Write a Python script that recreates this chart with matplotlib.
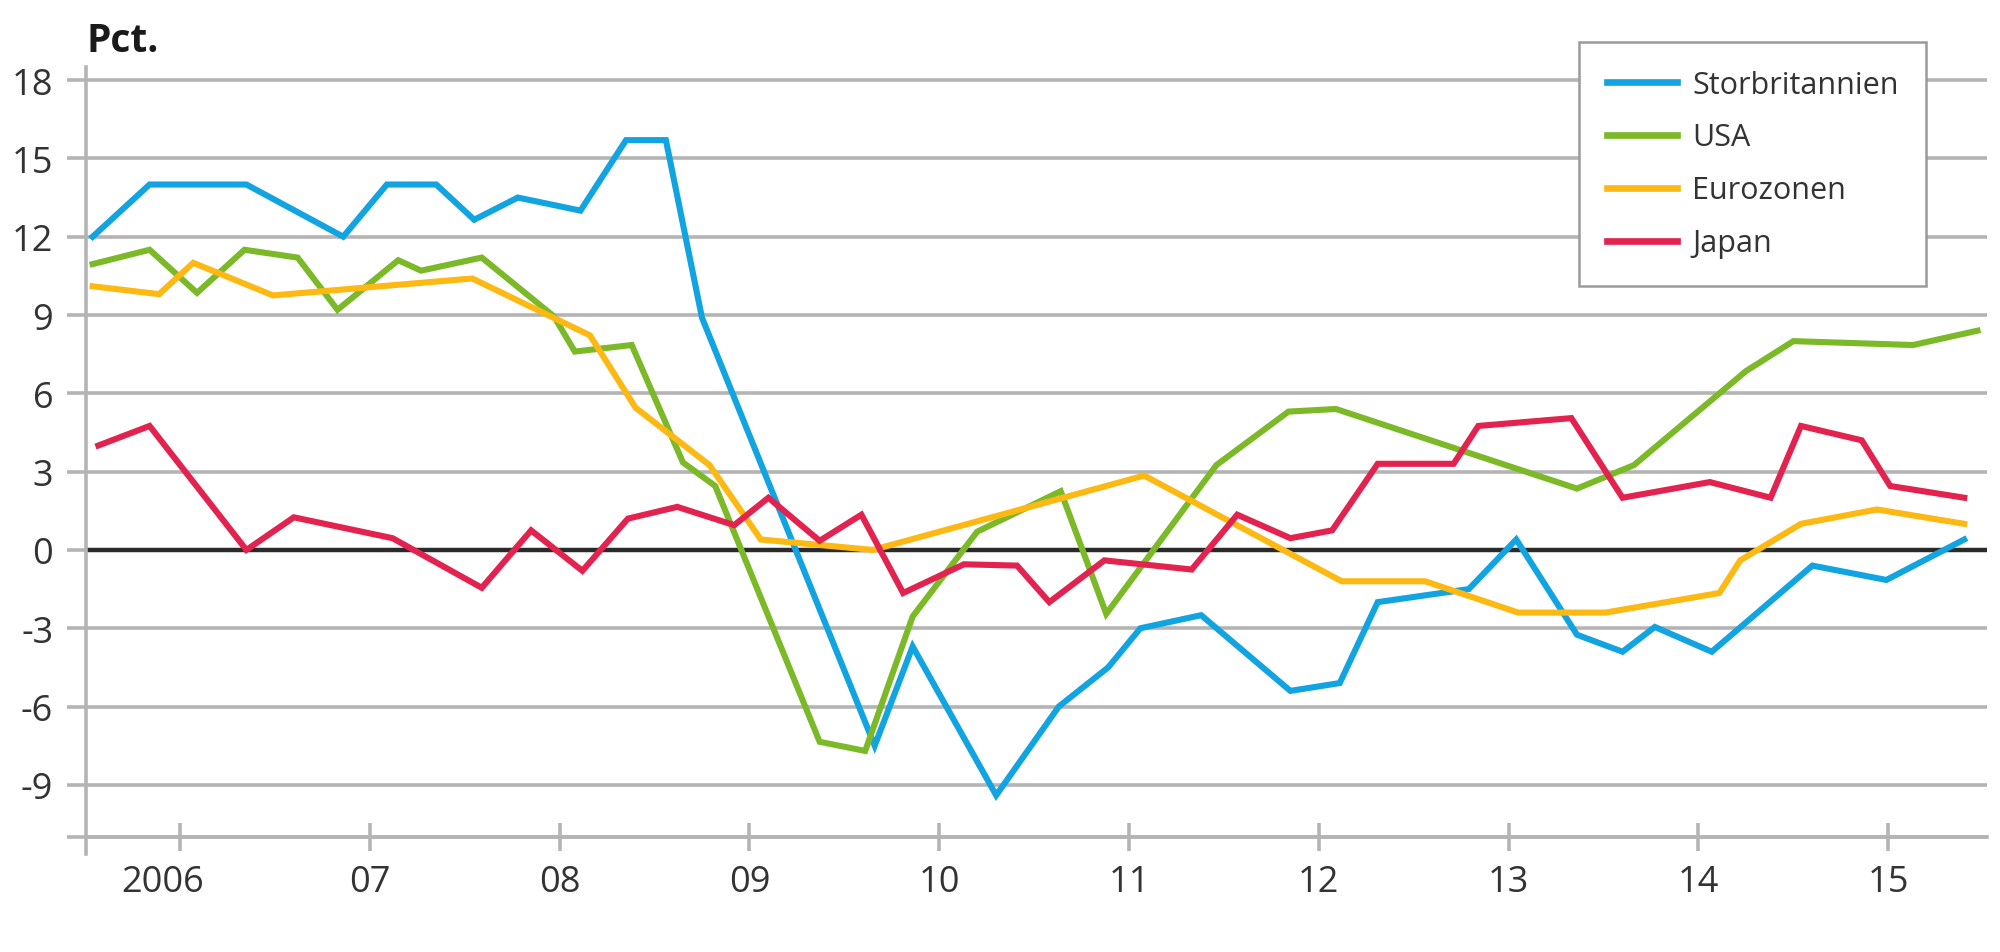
import matplotlib
matplotlib.use('Agg')
import matplotlib.pyplot as plt
import matplotlib.transforms as mtrans
from matplotlib.lines import Line2D

plt.rcParams['axes.unicode_minus'] = False
plt.rcParams['font.family'] = ['Open Sans', 'DejaVu Sans']

# ---------------- data (x in fractional years) ----------------
uk_x = [2005.54, 2005.84, 2006.35, 2006.86, 2007.09, 2007.35, 2007.55, 2007.78,
        2008.11, 2008.35, 2008.56, 2008.75, 2009.66, 2009.86, 2010.30, 2010.63,
        2010.89, 2011.06, 2011.38, 2011.85, 2012.11, 2012.31, 2012.79, 2013.04,
        2013.36, 2013.60, 2013.77, 2014.07, 2014.60, 2014.99, 2015.40]
uk_y = [12.0, 14.0, 14.0, 12.0, 14.0, 14.0, 12.65, 13.5,
        13.0, 15.7, 15.7, 8.9, -7.5, -3.7, -9.4, -6.0,
        -4.5, -3.0, -2.5, -5.4, -5.1, -2.0, -1.5, 0.4,
        -3.25, -3.9, -2.95, -3.9, -0.6, -1.15, 0.4]

us_x = [2005.54, 2005.84, 2006.09, 2006.34, 2006.62, 2006.83, 2007.15, 2007.27,
        2007.59, 2007.97, 2008.08, 2008.38, 2008.65, 2008.82, 2009.37, 2009.61,
        2009.86, 2010.20, 2010.64, 2010.88, 2011.46, 2011.84, 2012.09, 2013.36,
        2013.66, 2014.25, 2014.50, 2015.13, 2015.47]
us_y = [10.95, 11.5, 9.85, 11.5, 11.2, 9.2, 11.1, 10.7,
        11.2, 8.95, 7.6, 7.85, 3.35, 2.45, -7.35, -7.7,
        -2.55, 0.7, 2.25, -2.45, 3.25, 5.3, 5.4, 2.35,
        3.25, 6.85, 8.0, 7.85, 8.4]

ez_x = [2005.54, 2005.89, 2006.07, 2006.49, 2007.54, 2008.16, 2008.40, 2008.79,
        2009.06, 2009.65, 2011.08, 2012.12, 2012.56, 2013.05, 2013.51, 2014.11,
        2014.22, 2014.54, 2014.94, 2015.40]
ez_y = [10.1, 9.8, 11.0, 9.75, 10.4, 8.22, 5.45, 3.25,
        0.4, 0.0, 2.85, -1.2, -1.2, -2.4, -2.4, -1.65,
        -0.4, 1.0, 1.55, 1.0]

jp_x = [2005.57, 2005.84, 2006.35, 2006.60, 2007.12, 2007.59, 2007.85, 2008.12,
        2008.36, 2008.62, 2008.92, 2009.10, 2009.37, 2009.59, 2009.81, 2010.13,
        2010.41, 2010.58, 2010.87, 2011.33, 2011.57, 2011.85, 2012.07, 2012.31,
        2012.71, 2012.84, 2013.33, 2013.60, 2014.06, 2014.38, 2014.54, 2014.86,
        2015.01, 2015.40]
jp_y = [4.0, 4.75, 0.0, 1.25, 0.45, -1.45, 0.75, -0.8,
        1.2, 1.65, 0.95, 2.0, 0.35, 1.35, -1.65, -0.55,
        -0.6, -2.0, -0.4, -0.75, 1.35, 0.45, 0.75, 3.3,
        3.3, 4.75, 5.05, 2.0, 2.6, 2.0, 4.75, 4.2,
        2.45, 2.0]

series_names = ['Storbritannien', 'USA', 'Eurozonen', 'Japan']
series_colors = ['#12a4e1', '#7cb928', '#fdb913', '#e2234f']

x_tick_pos = [2006, 2007, 2008, 2009, 2010, 2011, 2012, 2013, 2014, 2015]
x_tick_labels = ['2006', '07', '08', '09', '10', '11', '12', '13', '14', '15']
y_tick_pos = [-11, -9, -6, -3, 0, 3, 6, 9, 12, 15, 18]
y_tick_labels = ['', '-9', '-6', '-3', '0', '3', '6', '9', '12', '15', '18']

# ---------------- figure ----------------
GRID = '#b4b4b4'
TXT = '#333333'

fig = plt.figure(figsize=(10, 4.765), dpi=200)
ax = fig.add_axes([0.043, 0.1028, 0.9505, 0.8258])

ax.set_xlim(2005.505, 2015.52)
ax.set_ylim(-11.65, 18.5)

for xs, ys, c in zip([uk_x, us_x, ez_x, jp_x], [uk_y, us_y, ez_y, jp_y], series_colors):
    ax.plot(xs, ys, color=c, lw=2.2, zorder=3, solid_joinstyle='miter')

ax.axhline(0, color='#2a2a2a', lw=1.6, zorder=2)

ax.set_yticks(y_tick_pos)
ax.set_yticklabels(y_tick_labels)
ax.yaxis.grid(True, color=GRID, lw=1.3)
ax.set_axisbelow(True)
ax.tick_params(axis='y', direction='out', length=6.8, width=1.3, color=GRID,
               labelsize=13, labelcolor=TXT, pad=5)

ax.set_xticks(x_tick_pos)
ax.set_xticklabels(x_tick_labels)
ax.tick_params(axis='x', direction='inout', length=10.4, width=1.3, color=GRID,
               labelsize=13, labelcolor=TXT, pad=4.5)

for s in ['top', 'right']:
    ax.spines[s].set_visible(False)
ax.spines['bottom'].set_position(('data', -11))
ax.spines['bottom'].set_color(GRID)
ax.spines['bottom'].set_linewidth(1.3)
ax.spines['left'].set_color(GRID)
ax.spines['left'].set_linewidth(1.3)

# first label slightly shifted left, as in the reference
lbl0 = ax.get_xticklabels()[0]
lbl0.set_transform(lbl0.get_transform() +
                   mtrans.ScaledTranslation(-6.1 / 72, 0, fig.dpi_scale_trans))

fig.text(87 / 2000, 1 - 52 / 953, 'Pct.', fontsize=14, fontweight='bold',
         color='#1a1a1a', ha='left', va='baseline')

handles = [Line2D([0], [0], color=c, lw=2.4) for c in series_colors]
leg = fig.legend(handles, series_names, loc='upper left',
                 bbox_to_anchor=(1579 / 2000, 1 - 43 / 953),
                 bbox_transform=fig.transFigure, borderaxespad=0,
                 fontsize=11, frameon=True, fancybox=False, framealpha=1,
                 edgecolor='#9a9a9a', handlelength=2.3, handletextpad=0.5,
                 labelspacing=0.75, borderpad=0.9)
leg.get_frame().set_linewidth(0.9)
for t in leg.get_texts():
    t.set_color(TXT)

fig.savefig('out.png', dpi=200, facecolor='white')
